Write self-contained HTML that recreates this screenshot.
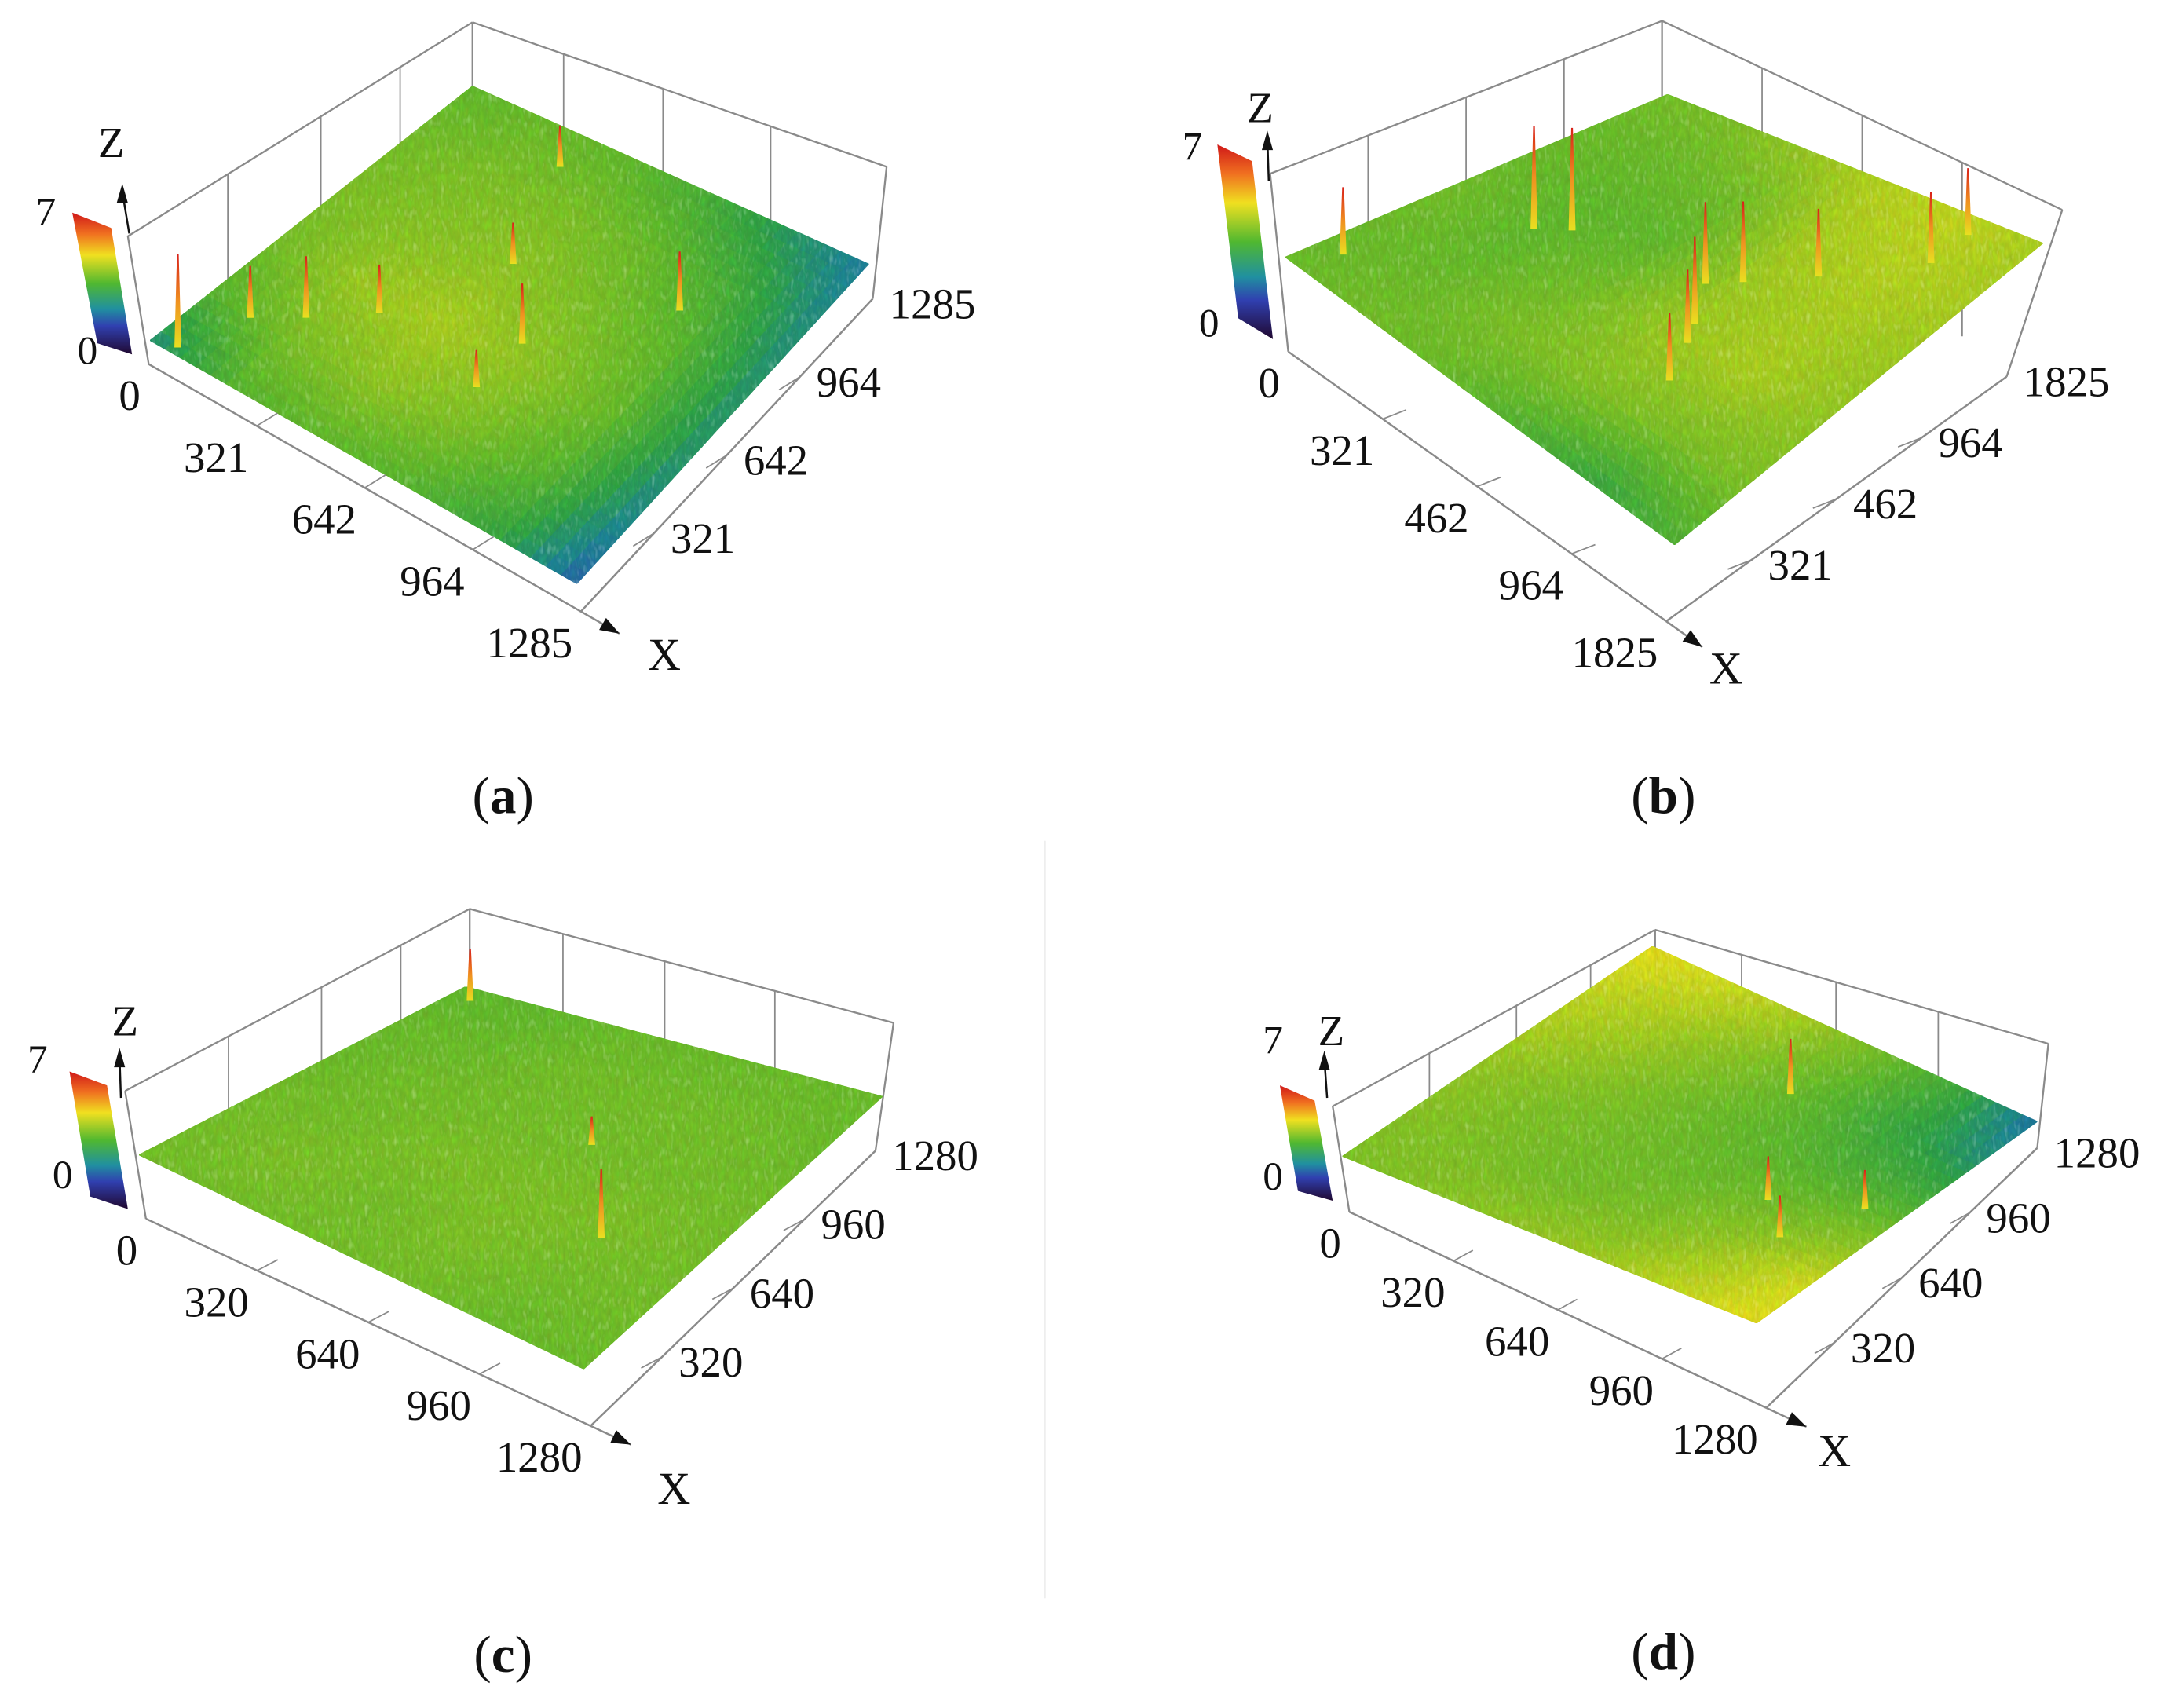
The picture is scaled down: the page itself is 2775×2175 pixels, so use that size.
<!DOCTYPE html>
<html><head><meta charset="utf-8"><style>
html,body{margin:0;padding:0;background:#fff;}
svg{display:block;}
text{font-family:"Liberation Serif","DejaVu Serif",serif;fill:#111;}
</style></head><body>
<svg id="fig" width="2775" height="2175" viewBox="0 0 1568 1229" xmlns="http://www.w3.org/2000/svg">
<defs>
<linearGradient id="cbar" x1="0" y1="0" x2="0" y2="1">
<stop offset="0" stop-color="#d01818"/><stop offset="0.15" stop-color="#f07020"/><stop offset="0.3" stop-color="#f0e020"/><stop offset="0.5" stop-color="#50b830"/><stop offset="0.68" stop-color="#2090a0"/><stop offset="0.8" stop-color="#3040b0"/><stop offset="1" stop-color="#200830"/>
</linearGradient>
<linearGradient id="spk" x1="0" y1="1" x2="0" y2="0">
<stop offset="0" stop-color="#e8e020"/><stop offset="0.5" stop-color="#f09020"/><stop offset="1" stop-color="#d82018"/>
</linearGradient>
<filter id="tex" x="0" y="0" width="1" height="1">
<feTurbulence type="fractalNoise" baseFrequency="0.35 0.12" numOctaves="2" seed="3" result="n"/>
<feComposite in="SourceGraphic" in2="n" operator="arithmetic" k1="0.7" k2="0.68" k3="0" k4="0" result="m"/>
<feComposite in="m" in2="SourceGraphic" operator="in"/>
</filter>
</defs>
<line x1="752" y1="605" x2="752" y2="1150" stroke="#eee" stroke-width="1"/>
<g id="panels"></g>
</svg>
<script>
// ---- data arrays ----
const panelIds = ['a','b','c','d'];
const leftTicksA = ['0','321','642','964','1285'];
const rightTicksA = ['321','642','964','1285'];
const leftTicksB = ['0','321','462','964','1825'];
const rightTicksB = ['321','462','964','1825'];
const leftTicksC = ['0','320','640','960','1280'];
const rightTicksC = ['320','640','960','1280'];
const leftTicksD = ['0','320','640','960','1280'];
const rightTicksD = ['320','640','960','1280'];
const zTicks = ['0','7'];
// height maps (rows: left->front edge, cols: left->back edge), units 0..7
const heightA = [
 [2.6,3.5,3.8,3.9,3.8,3.6],
 [3.5,3.9,4.2,4.0,3.9,3.7],
 [3.6,4.1,4.3,4.1,3.9,3.6],
 [3.5,3.9,4.1,3.9,3.7,3.3],
 [3.1,3.5,3.7,3.6,3.3,2.8],
 [2.2,2.5,2.7,2.7,2.6,2.4]];
const heightB = [
 [3.7,3.7,3.8,3.7,3.7,3.8],
 [3.8,3.7,3.6,3.6,3.7,3.9],
 [3.7,3.9,3.8,3.6,3.8,4.2],
 [3.4,4.0,4.2,4.2,4.3,4.4],
 [3.1,3.9,4.3,4.3,4.4,4.5],
 [3.4,3.9,4.1,4.2,4.3,4.3]];
const heightC = [
 [3.8,3.8,3.8,3.7,3.7,3.6],
 [3.8,3.9,3.8,3.8,3.7,3.6],
 [3.8,3.8,3.9,3.8,3.8,3.7],
 [3.8,3.9,3.9,3.8,3.8,3.7],
 [3.7,3.8,3.9,3.8,3.8,3.7],
 [3.7,3.8,3.8,3.8,3.7,3.7]];
const heightD = [
 [3.9,4.0,4.1,4.3,4.5,4.8],
 [4.0,3.9,3.9,4.1,4.3,4.6],
 [4.1,3.8,3.8,3.8,4.0,4.3],
 [4.2,3.9,3.7,3.6,3.6,3.8],
 [4.5,4.2,3.8,3.4,3.1,3.2],
 [4.8,4.6,4.0,3.3,2.7,2.3]];
// spikes: [s (toward back), t (toward front), peak value]
const spikesA = [[0.02,0.05,6.8],[0.25,0.18,6.5],[0.35,0.28,6.2],[0.45,0.55,6.6],[0.62,0.4,5.8],[0.9,0.3,5.5],[0.7,0.75,6.0],[0.3,0.55,5.6],[0.18,0.1,5.8]];
const spikesB = [[0.45,0.2,6.8],[0.5,0.25,6.8],[0.55,0.55,6.6],[0.6,0.6,6.7],[0.45,0.62,6.9],[0.4,0.65,6.5],[0.7,0.7,6.4],[0.85,0.85,6.6],[0.95,0.85,6.5],[0.3,0.7,6.2],[0.1,0.05,5.8]];
const spikesC = [[0.35,0.8,6.8],[0.95,0.05,5.8],[0.6,0.6,5.0]];
const spikesD = [[0.3,0.85,6.2],[0.4,0.75,6.0],[0.75,0.55,6.5],[0.5,0.92,5.6]];

// ---- geometry (layout only) ----
const geo = {
 a:{BT:[340,16],LT:[92,170],LB:[107,262],F:[418,440],RB:[628,215],RT:[638,120],
    S:[[108,245],[340,62],[625,190],[415,420]],leftW:[0.29,0.56,0.79],rightW:[0.22,0.46,0.72],
    cb:[[52,153],[80,164],[95,255],[70,247]],c7:[33,162],c0:[63,262],zL:[80,113],zA:[[93,168],[88,138]],
    X:[478,482],lt:leftTicksA,rt:rightTicksA,hm:heightA,sp:spikesA,cap:[362,585],H:93},
 b:{BT:[1196,15],LT:[914,125],LB:[927,253],F:[1199,447],RB:[1444,271],RT:[1484,151],
    S:[[925,185],[1200,68],[1470,175],[1205,392]],leftW:[0.25,0.5,0.75],rightW:[0.25,0.5,0.75],
    cb:[[876,104],[901,116],[916,244],[891,229]],c7:[858,115],c0:[870,242],zL:[907,88],zA:[[913,130],[912,100]],
    X:[1242,492],lt:leftTicksB,rt:rightTicksB,hm:heightB,sp:spikesB,cap:[1197,585],H:125},
 c:{BT:[338,654],LT:[90,785],LB:[105,877],F:[425,1026],RB:[630,828],RT:[643,736],
    S:[[100,831],[335,710],[635,789],[420,985]],leftW:[0.3,0.57,0.8],rightW:[0.22,0.46,0.72],
    cb:[[50,771],[77,781],[92,870],[65,861]],c7:[27,772],c0:[45,855],zL:[90,745],zA:[[87,790],[86,760]],
    X:[485,1082],lt:leftTicksC,rt:rightTicksC,hm:heightC,sp:spikesC,cap:[362,1203],H:92},
 d:{BT:[1191,669],LT:[959,796],LB:[971,872],F:[1271,1013],RB:[1466,826],RT:[1474,751],
    S:[[966,832],[1189,681],[1466,807],[1264,952]],leftW:[0.3,0.57,0.8],rightW:[0.22,0.46,0.72],
    cb:[[921,781],[946,792],[959,864],[934,857]],c7:[916,758],c0:[916,856],zL:[958,752],zA:[[955,790],[953,762]],
    X:[1320,1055],lt:leftTicksD,rt:rightTicksD,hm:heightD,sp:spikesD,cap:[1197,1201],H:76}
};

const cmStops=[[0,[42,8,56]],[1.2,[58,42,154]],[2.0,[48,70,190]],[2.5,[30,140,150]],[3.0,[50,170,70]],[3.6,[100,192,45]],[4.1,[150,206,35]],[4.7,[228,230,28]],[5.5,[240,160,32]],[6.3,[232,48,32]],[7,[200,24,24]]];
function cmap(v){
 v=Math.max(0,Math.min(7,v));
 for(let i=1;i<cmStops.length;i++){
  if(v<=cmStops[i][0]){const a=cmStops[i-1],b=cmStops[i];const f=(v-a[0])/(b[0]-a[0]);
   const c=a[1].map((x,k)=>Math.round(x+(b[1][k]-x)*f));return 'rgb('+c.join(',')+')';}
 }
 return 'rgb(200,24,24)';
}
const NS='http://www.w3.org/2000/svg';
const SERIF='"Liberation Serif","DejaVu Serif",serif';
function mk(tag,attrs,parent){const e=document.createElementNS(NS,tag);for(const k in attrs)e.setAttribute(k,attrs[k]);parent.appendChild(e);return e;}
function lerp(p,q,f){return [p[0]+(q[0]-p[0])*f,p[1]+(q[1]-p[1])*f];}
function surfPt(S,s,t){const L=S[0],B=S[1],R=S[2],F=S[3];
 return [L[0]+(B[0]-L[0])*s+(F[0]-L[0])*t+(R[0]-B[0]-F[0]+L[0])*s*t,
         L[1]+(B[1]-L[1])*s+(F[1]-L[1])*t+(R[1]-B[1]-F[1]+L[1])*s*t];}
function hval(hm,s,t){const n=hm.length-1;const x=t*n,y=s*n;const i=Math.min(n-1,Math.floor(x)),j=Math.min(n-1,Math.floor(y));
 const fx=x-i,fy=y-j;
 return hm[i][j]*(1-fx)*(1-fy)+hm[i+1][j]*fx*(1-fy)+hm[i][j+1]*(1-fx)*fy+hm[i+1][j+1]*fx*fy;}

const root=document.getElementById('panels');
panelIds.forEach(id=>{
 const g=geo[id];
 const pg=mk('g',{},root);
 
 
 const ln=(p,q,name,w)=>{const l=mk('line',{x1:p[0],y1:p[1],x2:q[0],y2:q[1],stroke:'#8a8a8a','stroke-width':w||1.3},pg);
   return l;};
 ln(g.BT,g.LT,'left-wall-top-edge');ln(g.BT,g.RT,'right-wall-top-edge');
 ln(g.LT,g.LB,'left-wall-vertical');ln(g.RT,g.RB,'right-wall-vertical');
 ln(g.BT,[g.BT[0],g.BT[1]+g.H],'back-vertical');
 g.leftW.forEach(f=>{const p=lerp(g.LT,g.BT,f);ln(p,[p[0],p[1]+g.H],'left-wall-gridline',1);});
 g.rightW.forEach(f=>{const p=lerp(g.BT,g.RT,f);ln(p,[p[0],p[1]+g.H],'right-wall-gridline',1);});
 const sg=mk('g',{filter:'url(#tex)'},pg);
 
 
 const N=28;
 for(let a=0;a<N;a++)for(let b=0;b<N;b++){
  const s0=b/N,s1=(b+1)/N,t0=a/N,t1=(a+1)/N;
  const pts=[surfPt(g.S,s0,t0),surfPt(g.S,s1,t0),surfPt(g.S,s1,t1),surfPt(g.S,s0,t1)];
  const col=cmap(hval(g.hm,(s0+s1)/2,(t0+t1)/2));
  const c=mk('polygon',{points:pts.map(p=>p.join(',')).join(' '),fill:col,stroke:col,'stroke-width':0.8},sg);
  
  
 }
 const zs=g.H/7;
 g.sp.forEach(sp=>{
  const base=surfPt(g.S,sp[0],sp[1]);const h=(sp[2]-hval(g.hm,sp[0],sp[1]))*zs*1.3;
  const e=mk('polygon',{points:`${base[0]-2.5},${base[1]} ${base[0]+2.5},${base[1]} ${base[0]+0.6},${base[1]-h} ${base[0]-0.6},${base[1]-h}`,fill:'url(#spk)'},pg);
  
  
 });
 ln(g.LB,g.F,'y-axis-line',1.4);ln(g.F,g.RB,'x-axis-line',1.4);
 const dL=[(g.BT[0]-g.LT[0])*0.06,(g.BT[1]-g.LT[1])*0.06];
 const dR=[(g.LT[0]-g.BT[0])*0.06,(g.LT[1]-g.BT[1])*0.06];
 g.lt.forEach((lab,i)=>{const f=i/(g.lt.length-1);const p=lerp(g.LB,g.F,f);
  if(i>0&&i<g.lt.length-1)ln(p,[p[0]+dL[0],p[1]+dL[1]],'left-axis-tick',1);
  const t=mk('text',{x:p[0]-6,y:p[1]+33,'font-size':31,'text-anchor':'end','font-family':SERIF},pg);t.textContent=lab;
  });
 g.rt.forEach((lab,i)=>{const f=(i+1)/g.rt.length;const p=lerp(g.F,g.RB,f);
  if(i<g.rt.length-1)ln(p,[p[0]+dR[0],p[1]+dR[1]],'right-axis-tick',1);
  const t=mk('text',{x:p[0]+12,y:p[1]+14,'font-size':31,'text-anchor':'start','font-family':SERIF},pg);t.textContent=lab;
  });
 const dir=[g.F[0]-g.LB[0],g.F[1]-g.LB[1]];const len=Math.hypot(dir[0],dir[1]);const u=[dir[0]/len,dir[1]/len];
 const tip=[g.F[0]+u[0]*32,g.F[1]+u[1]*32];
 ln(g.F,tip,'x-arrow-shaft',1.4);
 const nrm=[-u[1],u[0]];
 const ah=mk('polygon',{points:`${tip[0]},${tip[1]} ${tip[0]-u[0]*14+nrm[0]*5},${tip[1]-u[1]*14+nrm[1]*5} ${tip[0]-u[0]*14-nrm[0]*5},${tip[1]-u[1]*14-nrm[1]*5}`,fill:'#111'},pg);
 
 const xl=mk('text',{x:g.X[0],y:g.X[1],'font-size':33,'text-anchor':'middle','font-family':SERIF},pg);xl.textContent='X';
 
 const za=mk('line',{x1:g.zA[0][0],y1:g.zA[0][1],x2:g.zA[1][0],y2:g.zA[1][1],stroke:'#111','stroke-width':1.4},pg);
 
 const zt=g.zA[1];
 const zh=mk('polygon',{points:`${zt[0]},${zt[1]-6} ${zt[0]-4},${zt[1]+8} ${zt[0]+4},${zt[1]+8}`,fill:'#111'},pg);
 
 const zl=mk('text',{x:g.zL[0],y:g.zL[1],'font-size':31,'text-anchor':'middle','font-family':SERIF},pg);zl.textContent='Z';
 
 const cb=mk('polygon',{points:g.cb.map(p=>p.join(',')).join(' '),fill:'url(#cbar)'},pg);
 
 const c7=mk('text',{x:g.c7[0],y:g.c7[1],'font-size':29,'text-anchor':'middle','font-family':SERIF},pg);c7.textContent=zTicks[1];
 
 const c0=mk('text',{x:g.c0[0],y:g.c0[1],'font-size':29,'text-anchor':'middle','font-family':SERIF},pg);c0.textContent=zTicks[0];
 
 const cap=mk('text',{x:g.cap[0],y:g.cap[1],'font-size':38,'text-anchor':'middle','font-family':SERIF},pg);
 
 cap.appendChild(document.createTextNode('('));
 const ts=mk('tspan',{'font-weight':'bold'},cap);ts.textContent=id;
 cap.appendChild(document.createTextNode(')'));
});
</script>
</body></html>
